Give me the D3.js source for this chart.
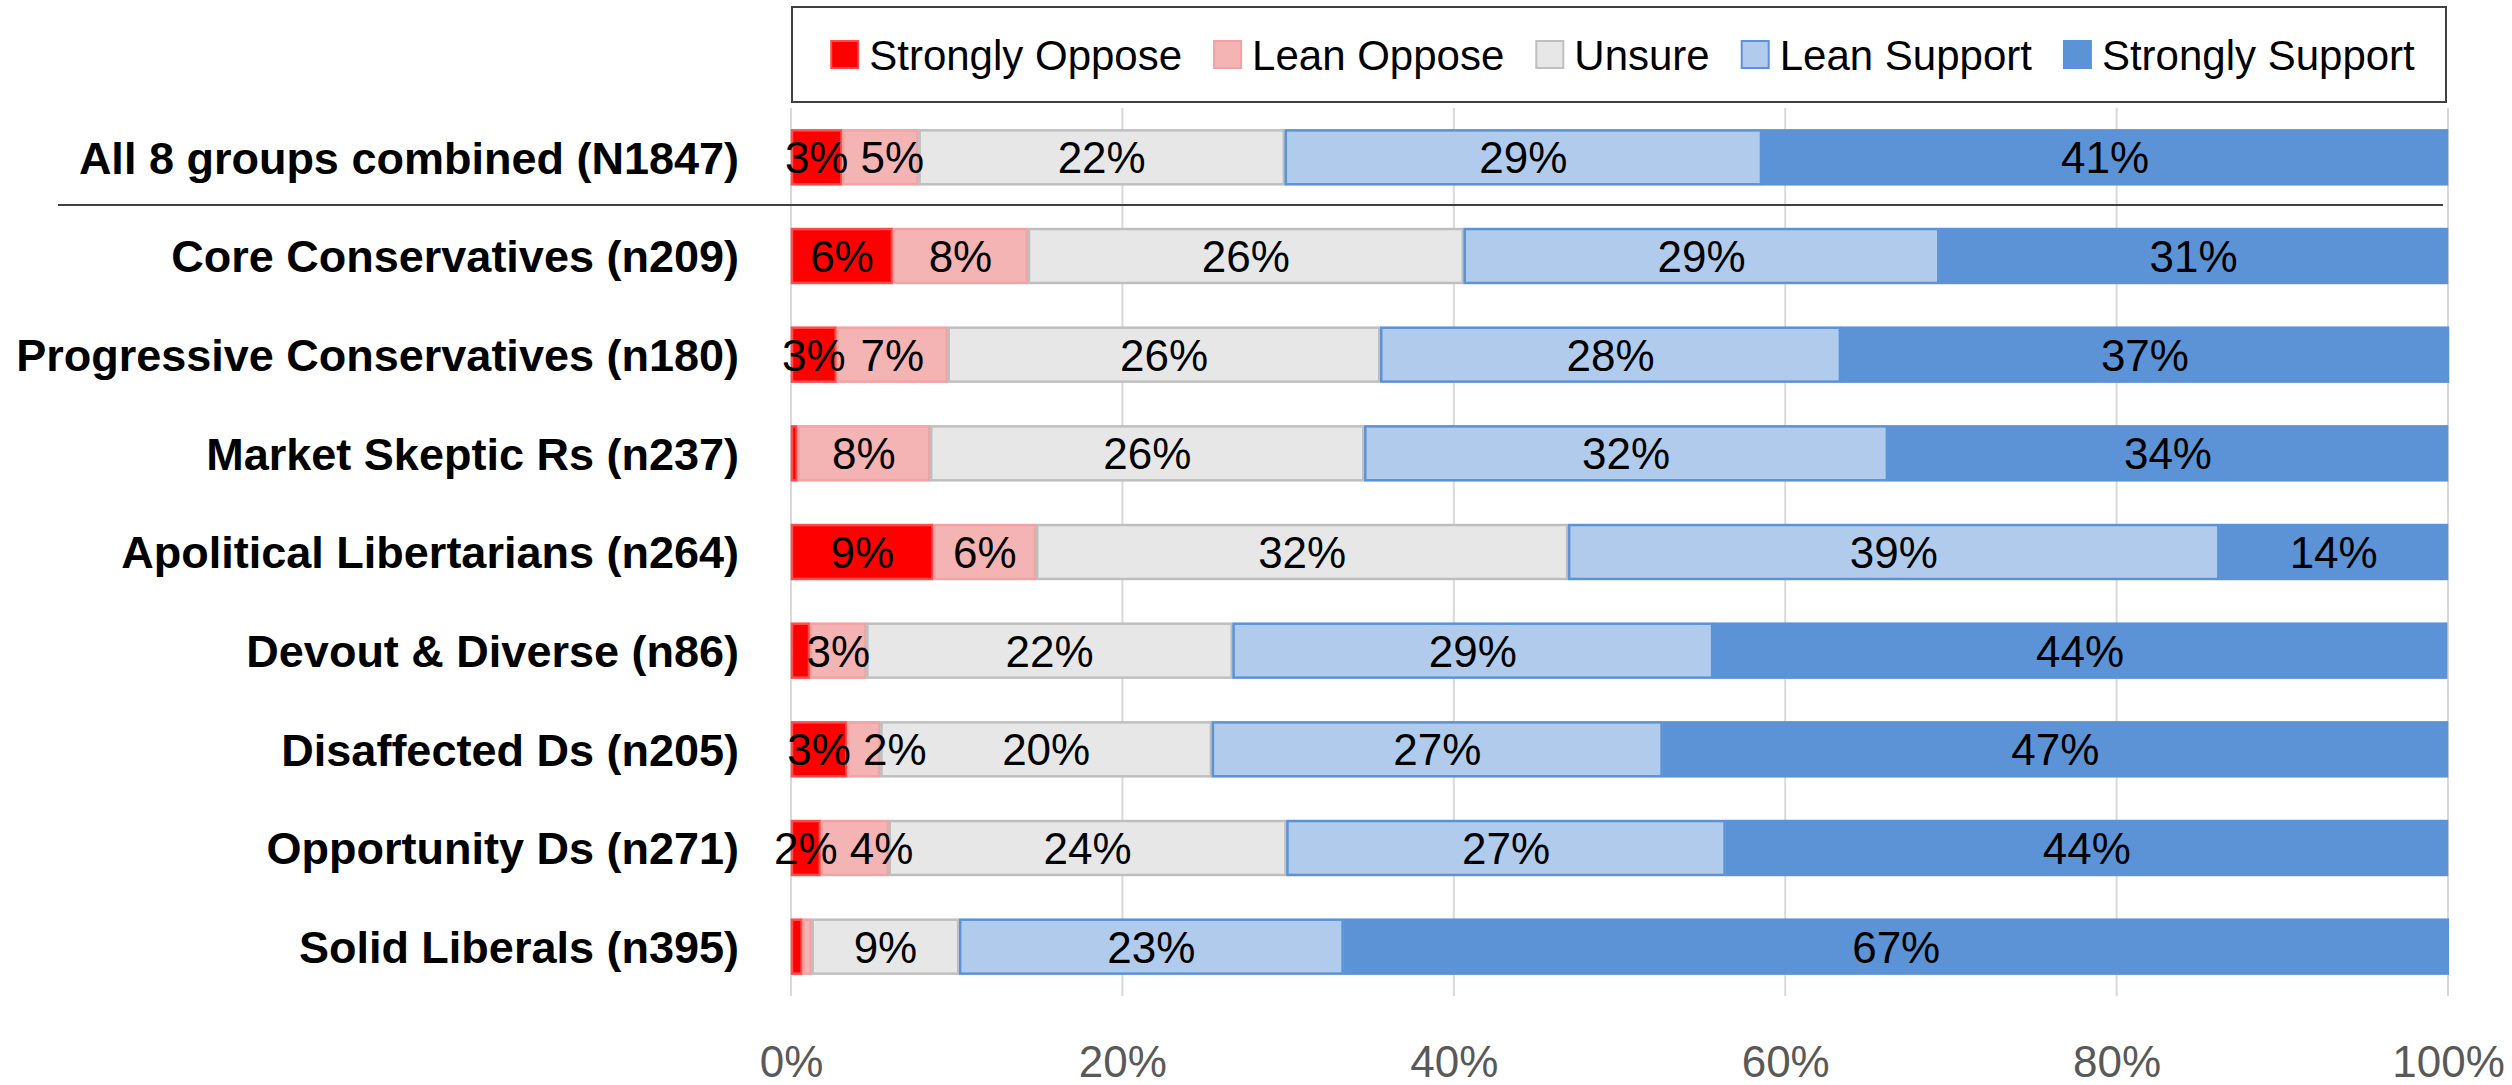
<!DOCTYPE html>
<html>
<head>
<meta charset="utf-8">
<script src="https://cdn.jsdelivr.net/npm/d3@7"></script>
<style>
  body { margin: 0; background: #fff; }
  svg { display: block; font-family: "Liberation Sans", Arial, sans-serif; }
</style>
</head>
<body>
<svg id="chart" width="2512" height="1085"></svg>
<script>
// groups, top to bottom
const groups = [
  "All 8 groups combined (N1847)",
  "Core Conservatives (n209)",
  "Progressive Conservatives (n180)",
  "Market Skeptic Rs (n237)",
  "Apolitical Libertarians (n264)",
  "Devout & Diverse (n86)",
  "Disaffected Ds (n205)",
  "Opportunity Ds (n271)",
  "Solid Liberals (n395)"
];
const answers = ["Strongly Oppose", "Lean Oppose", "Unsure", "Lean Support", "Strongly Support"];

// shares in percent, one per group
const strongOppose  = [3.1, 6.15, 2.76, 0.4, 8.6, 1.15, 3.4, 1.8, 0.7];
const leanOppose    = [4.6, 8.15, 6.7, 8.0, 6.2, 3.4, 2.0, 4.1, 0.55];
const unsure        = [22.1, 26.3, 26.1, 26.2, 32.1, 22.1, 20.0, 24.0, 8.9];
const leanSupport   = [28.8, 28.7, 27.8, 31.6, 39.3, 29.0, 27.2, 26.5, 23.2];
const strongSupport = [41.4, 30.7, 36.7, 33.8, 13.8, 44.3, 47.4, 43.6, 66.7];

const ticks = [0, 20, 40, 60, 80, 100];

const fills   = ["#ff0000", "#f4b4b4", "#e7e7e7", "#b0cbeb", "#5b93d6"];
const borders = ["#ff4d4d", "#f2a2a2", "#bfbfbf", "#5b93d6", "#5b93d6"];

const rows = groups.map((g, i) => ({
  group: g,
  "Strongly Oppose": strongOppose[i],
  "Lean Oppose": leanOppose[i],
  "Unsure": unsure[i],
  "Lean Support": leanSupport[i],
  "Strongly Support": strongSupport[i]
}));

let svg = d3.select('#chart');

let x = d3.scaleLinear().domain([0, 100]).range([791, 2448]);
let y = d3.scaleBand().domain(groups).range([108, 996]).paddingInner(0.433).paddingOuter(0.2165);
let color = d3.scaleOrdinal().domain(answers).range(fills);
let stroke = d3.scaleOrdinal().domain(answers).range(borders);

// gridlines
svg.append('g')
  .selectAll('line')
  .data(ticks)
  .enter().append('line')
  .attr('x1', d => x(d)).attr('x2', d => x(d))
  .attr('y1', 108).attr('y2', 996)
  .attr('stroke', '#d9d9d9')
  .attr('stroke-width', 2);

// x axis labels
let xAxis = d3.axisBottom(x).tickValues(ticks).tickFormat(d => d + '%').tickSize(0);
let ax = svg.append('g')
  .attr('transform', 'translate(0,1068)')
  .call(xAxis);
ax.select('.domain').remove();
ax.selectAll('text')
  .attr('y', 0).attr('dy', '0.2em')
  .style('font-family', '"Liberation Sans", Arial, sans-serif')
  .style('font-size', '44px')
  .attr('fill', '#595959');

// stacked bars
let stack = d3.stack().keys(answers);
let layers = stack(rows);

let layer = svg.append('g')
  .selectAll('g')
  .data(layers)
  .enter().append('g')
  .attr('fill', d => color(d.key))
  .attr('stroke', d => stroke(d.key));

layer.selectAll('rect')
  .data(d => d)
  .enter().append('rect')
  .attr('x', d => x(d[0]) + 1)
  .attr('y', d => y(d.data.group) + 1)
  .attr('width', d => Math.max(0, x(d[1]) - x(d[0]) - 2))
  .attr('height', y.bandwidth() - 2)
  .attr('stroke-width', 2.5);

// value labels
let lab = svg.append('g')
  .style('font-size', '44px')
  .attr('text-anchor', 'middle')
  .attr('fill', '#000');

layers.forEach(l => {
  lab.selectAll(null)
    .data(l.filter(d => Math.round(d[1] - d[0]) >= 2))
    .enter().append('text')
    .attr('x', d => (x(d[0]) + x(d[1])) / 2)
    .attr('y', d => y(d.data.group) + y.bandwidth() / 2)
    .attr('dy', '0.36em')
    .text(d => Math.round(d[1] - d[0]) + '%');
});

// push small labels right when they run into the one before
groups.forEach(g => {
  let right = -Infinity;
  lab.selectAll('text')
    .filter(d => d.data.group === g)
    .each(function () {
      let t = d3.select(this);
      let w = this.getComputedTextLength();
      let cx = +t.attr('x');
      if (cx - w / 2 < right + 12) {
        cx = right + 12 + w / 2;
        t.attr('x', cx);
      }
      right = cx + w / 2;
    });
});

// group labels
svg.append('g')
  .selectAll('text')
  .data(groups)
  .enter().append('text')
  .attr('x', 739)
  .attr('y', d => y(d) + y.bandwidth() / 2)
  .attr('dy', '0.36em')
  .attr('text-anchor', 'end')
  .style('font-size', '45px')
  .style('font-weight', 'bold')
  .text(d => d);

// line under the combined row
svg.append('line')
  .attr('x1', 58).attr('x2', 2443)
  .attr('y1', 205).attr('y2', 205)
  .attr('stroke', '#404040')
  .attr('stroke-width', 2);

// legend
svg.append('rect')
  .attr('x', 792).attr('y', 7)
  .attr('width', 1654).attr('height', 95)
  .attr('fill', '#fff')
  .attr('stroke', '#404040')
  .attr('stroke-width', 2);

let legend = svg.append('g');
let items = legend.selectAll('g')
  .data(answers)
  .enter().append('g');

items.append('rect')
  .attr('width', 27).attr('height', 27)
  .attr('y', 41)
  .attr('fill', d => color(d))
  .attr('stroke', d => stroke(d))
  .attr('stroke-width', 2);

items.append('text')
  .attr('x', 38)
  .attr('y', 55)
  .attr('dy', '0.36em')
  .style('font-size', '42px')
  .text(d => d);

// place legend items one after another, centred in the box
let widths = [];
items.each(function () {
  widths.push(38 + d3.select(this).select('text').node().getComputedTextLength());
});
let gap = 32;
let total = d3.sum(widths) + gap * (widths.length - 1);
let cx = 792 + 1654 / 2 + 4;
let pos = cx - total / 2;
items.attr('transform', (d, i) => {
  let t = `translate(${pos},0)`;
  pos += widths[i] + gap;
  return t;
});
</script>
</body>
</html>
